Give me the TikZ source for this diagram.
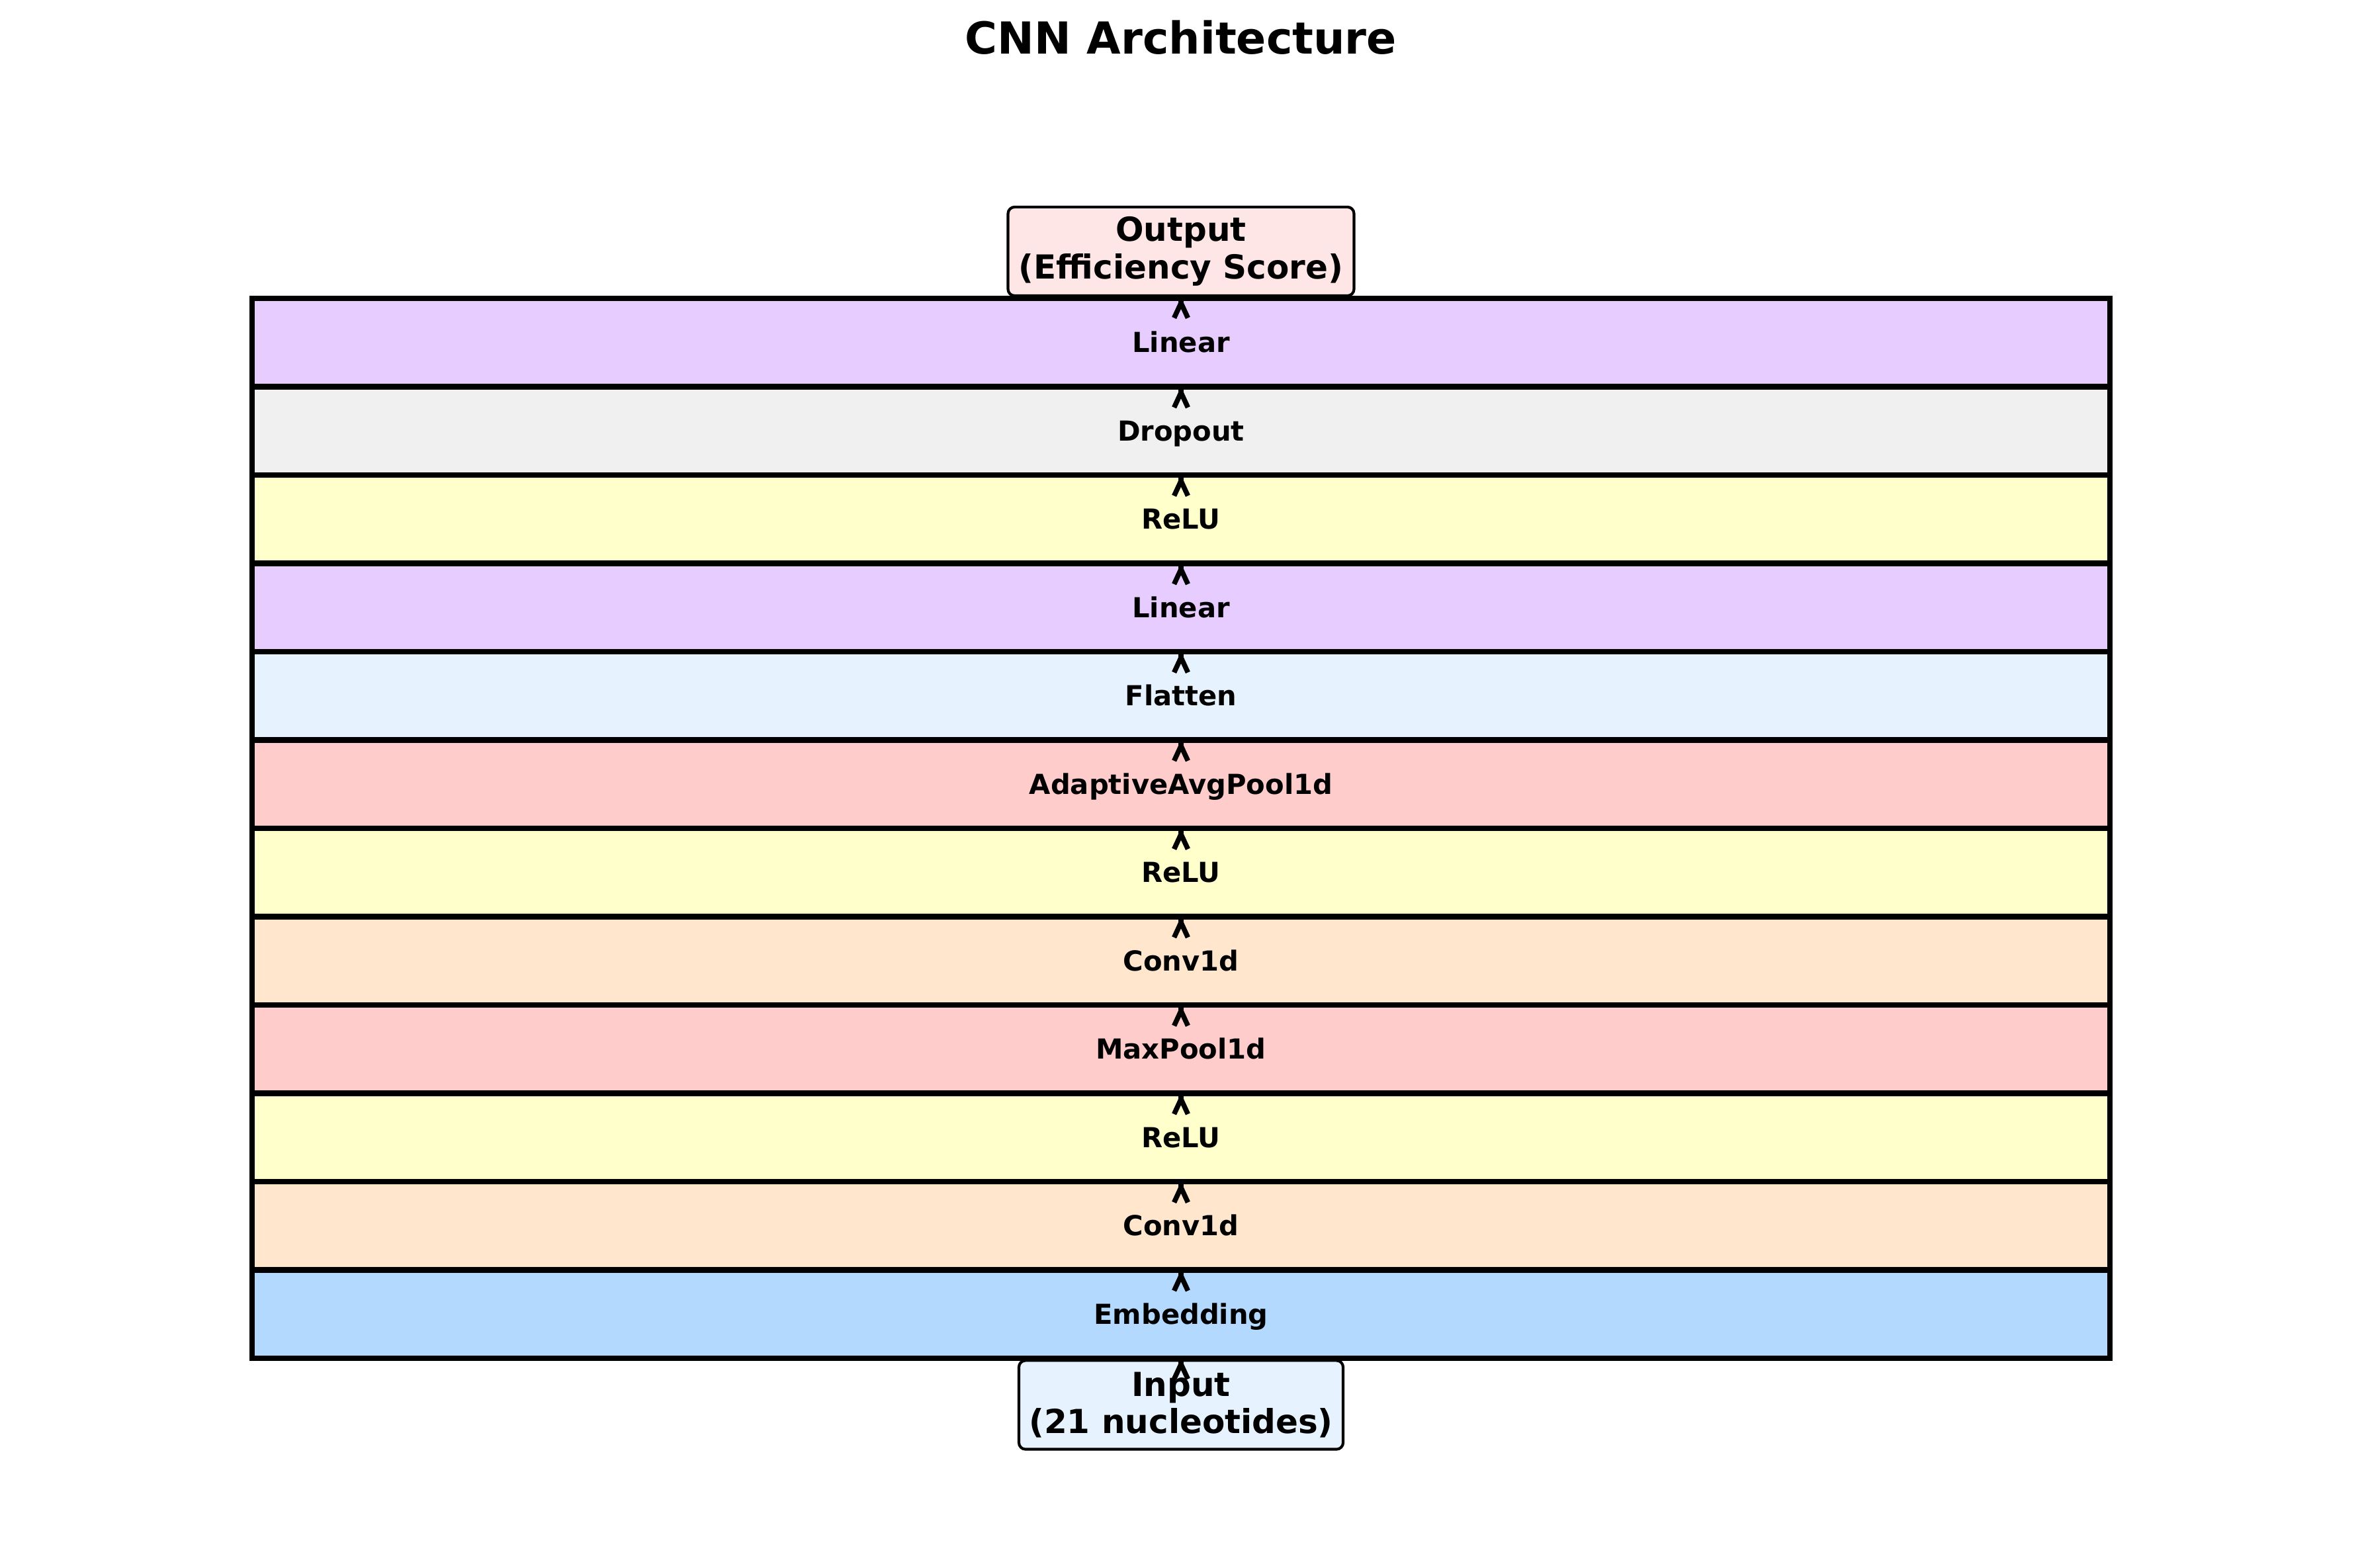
\documentclass[tikz,border=0pt]{standalone}
\usepackage{fontspec}
\setmainfont{DejaVu Sans}
\usetikzlibrary{arrows.meta}

\begin{document}
\begin{tikzpicture}[x=24pt, y=24pt,
    layer/.style={draw, line width=2pt, outer sep=0pt, inner sep=0pt,
        minimum width=673.9pt, minimum height=32.04pt,
        text height=0.73em, text depth=0pt,
        font=\bfseries\fontsize{10}{12}\selectfont},
    endbox/.style={draw, line width=1pt, rounded corners=2.4pt, inner sep=0pt,
        minimum height=32.2pt, align=center,
        font=\bfseries\fontsize{12}{13.5}\selectfont},
    flow/.style={-{Straight Barb[length=5.4pt, width=5pt]},
        line width=1.8pt, line cap=round, line join=round}]
\definecolor{embblue}{HTML}{B3D9FF}
\definecolor{convorange}{HTML}{FFE6CC}
\definecolor{reluyellow}{HTML}{FFFFCC}
\definecolor{poolred}{HTML}{FFCCCC}
\definecolor{flatblue}{HTML}{E6F3FF}
\definecolor{linpurple}{HTML}{E6CCFF}
\definecolor{dropgray}{HTML}{F0F0F0}
\definecolor{outpink}{HTML}{FFE6E6}

\useasboundingbox (0, 0) rectangle (35.7, 23.7);

\node[font=\bfseries\fontsize{16}{19.2}\selectfont] (title) at (17.85, 23.13)
    {CNN Architecture};

% layer stack, bottom to top
\node[layer, fill=embblue] (emb) at (17.85, 3.8375) {Embedding};
\node[layer, fill=convorange] (conv1) at (17.85, 5.1725) {Conv1d};
\node[layer, fill=reluyellow] (relu1) at (17.85, 6.5075) {ReLU};
\node[layer, fill=poolred] (pool1) at (17.85, 7.8425) {MaxPool1d};
\node[layer, fill=convorange] (conv2) at (17.85, 9.1775) {Conv1d};
\node[layer, fill=reluyellow] (relu2) at (17.85, 10.5125) {ReLU};
\node[layer, fill=poolred] (avgpool) at (17.85, 11.8475) {AdaptiveAvgPool1d};
\node[layer, fill=flatblue] (flat) at (17.85, 13.1825) {Flatten};
\node[layer, fill=linpurple] (lin1) at (17.85, 14.5175) {Linear};
\node[layer, fill=reluyellow] (relu3) at (17.85, 15.8525) {ReLU};
\node[layer, fill=dropgray] (drop) at (17.85, 17.1875) {Dropout};
\node[layer, fill=linpurple] (lin2) at (17.85, 18.5225) {Linear};

\node[endbox, fill=flatblue, minimum width=117.6pt] (inp) at (17.85, 2.465)
    {Input\\(21 nucleotides)};
\node[endbox, fill=outpink, minimum width=125.5pt] (out) at (17.85, 19.90)
    {Output\\(Efficiency Score)};

\draw[flow] ([yshift=-1pt]inp.north) -- (emb.south);
\draw[flow] ([yshift=-1pt]emb.north) -- (conv1.south);
\draw[flow] ([yshift=-1pt]conv1.north) -- (relu1.south);
\draw[flow] ([yshift=-1pt]relu1.north) -- (pool1.south);
\draw[flow] ([yshift=-1pt]pool1.north) -- (conv2.south);
\draw[flow] ([yshift=-1pt]conv2.north) -- (relu2.south);
\draw[flow] ([yshift=-1pt]relu2.north) -- (avgpool.south);
\draw[flow] ([yshift=-1pt]avgpool.north) -- (flat.south);
\draw[flow] ([yshift=-1pt]flat.north) -- (lin1.south);
\draw[flow] ([yshift=-1pt]lin1.north) -- (relu3.south);
\draw[flow] ([yshift=-1pt]relu3.north) -- (drop.south);
\draw[flow] ([yshift=-1pt]drop.north) -- (lin2.south);
\draw[flow] ([yshift=-1pt]lin2.north) -- (out.south);

\end{tikzpicture}
\end{document}
